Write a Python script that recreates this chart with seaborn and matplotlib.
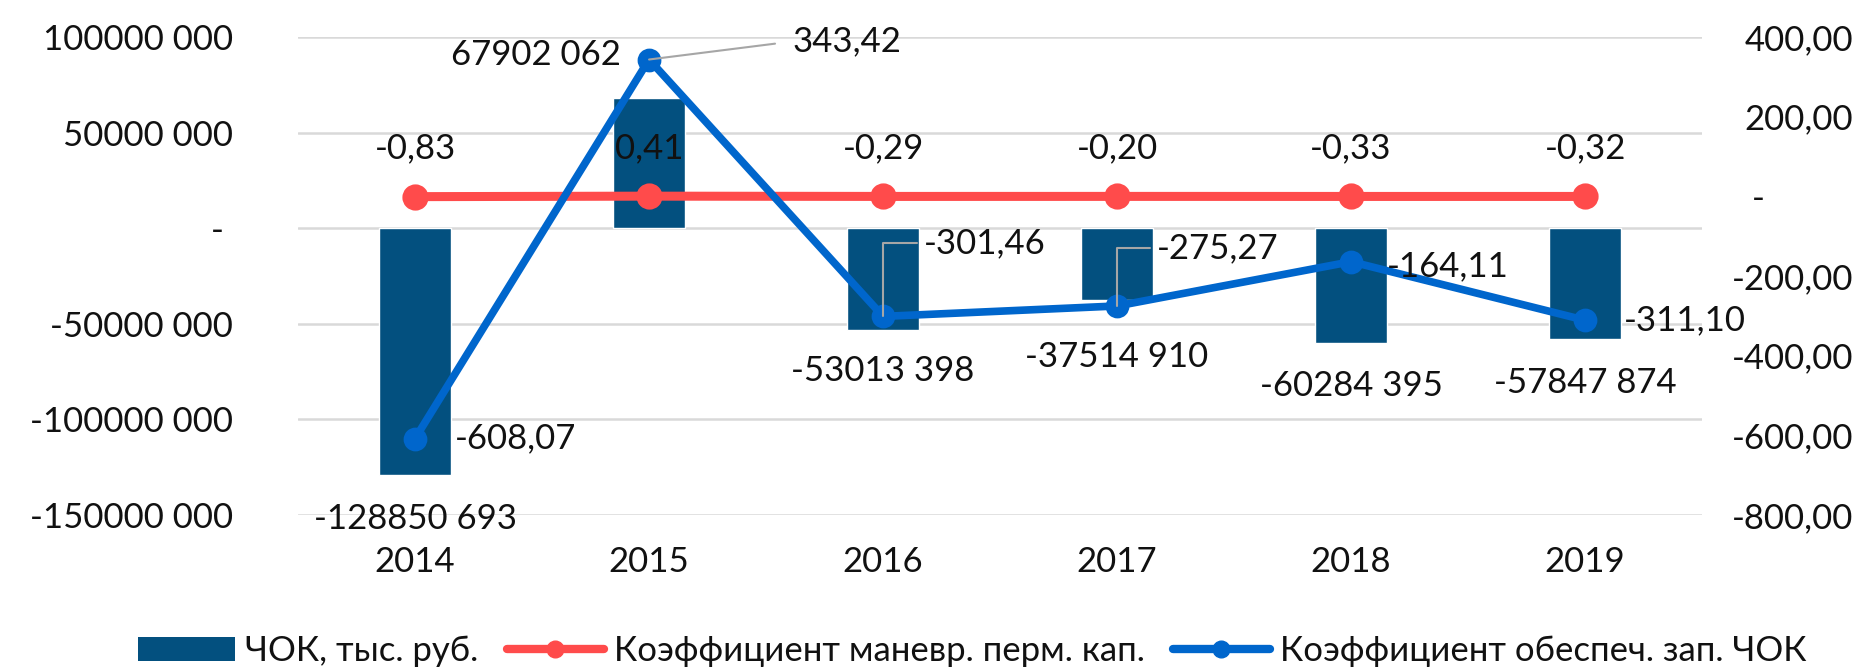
import numpy as np
import pandas as pd
import matplotlib
matplotlib.use('Agg')
import matplotlib.pyplot as plt
import seaborn as sns
from matplotlib.ticker import FuncFormatter, FixedLocator
from matplotlib.patches import Patch
from matplotlib.lines import Line2D

# ---- data ----
years = ['2014', '2015', '2016', '2017', '2018', '2019']
chok = [-128850693, 67902062, -53013398, -37514910, -60284395, -57847874]
k_manevr = [-0.83, 0.41, -0.29, -0.20, -0.33, -0.32]
k_obesp = [-608.07, 343.42, -301.46, -275.27, -164.11, -311.10]
series_names = ['ЧОК, тыс. руб.', 'Коэффициент маневр. перм. кап.', 'Коэффициент обеспеч. зап. ЧОК']
left_ticks = [-150e6, -100e6, -50e6, 0, 50e6, 100e6]
right_ticks = [-800, -600, -400, -200, 0, 200, 400]

sns.set_theme(style='white')
plt.rcParams['font.family'] = ['Lato', 'DejaVu Sans']
FS = 25
BAR = '#03507F'
RED = '#FF4B4B'
BLUE = '#0066CC'
GRID = '#D9D9D9'
TXT = '#111111'
LEAD = '#A6A6A6'


def fmt_big(v, zero='- '):
    v = int(round(v))
    if v == 0:
        return zero
    s = '-' if v < 0 else ''
    a = abs(v)
    return f"{s}{a // 1000} {a % 1000:03d}"


def fmt_dec(v):
    if abs(v) < 1e-9:
        return '-' + ' ' * 10
    return f"{v:.2f}".replace('.', ',')


df = pd.DataFrame({'year': years, 'chok': chok, 'km': k_manevr, 'ko': k_obesp})

fig = plt.figure(figsize=(18.7, 6.71), dpi=100)
ax = fig.add_axes([0.1594, 0.2325, 0.7508, 0.7124])
sns.barplot(data=df, x='year', y='chok', color=BAR, width=0.31, saturation=1,
            ax=ax, zorder=2)
ax.set_ylim(-150e6, 100e6)
ax.yaxis.set_major_locator(FixedLocator(left_ticks))
ax.yaxis.set_major_formatter(FuncFormatter(lambda v, p: fmt_big(v)))
ax.yaxis.grid(True, color=GRID, lw=1.8)
ax.set_axisbelow(True)
for s in ax.spines.values():
    s.set_visible(False)
ax.tick_params(axis='y', length=0, pad=47, labelsize=FS, labelcolor=TXT)
ax.tick_params(axis='x', length=0, pad=22, labelsize=FS, labelcolor=TXT)
ax.set_xlabel('')
ax.set_ylabel('')

ax2 = ax.twinx()
sns.pointplot(data=df, x='year', y='km', color=RED, errorbar=None, ax=ax2,
              markers='o', markersize=14, linewidth=6.5)
sns.pointplot(data=df, x='year', y='ko', color=BLUE, errorbar=None, ax=ax2,
              markers='o', markersize=13, linewidth=5.5)
ax2.set_ylim(-800, 400)
ax2.yaxis.set_major_locator(FixedLocator(right_ticks))
ax2.yaxis.set_major_formatter(FuncFormatter(lambda v, p: fmt_dec(v)))
for s in ax2.spines.values():
    s.set_visible(False)
ax2.grid(False)
ax2.tick_params(axis='y', length=0, pad=109, labelsize=FS, labelcolor=TXT)
for lbl in ax2.get_yticklabels():
    lbl.set_ha('right')
ax2.set_ylabel('')
ax2.set_xlabel('')
ax2.set_xlim(-0.5, len(years) - 0.5)
ax.set_xlim(-0.5, len(years) - 0.5)

# bar labels
bar_off = [(0, -44), (-113, 43), (0, -41), (0, -57), (0, -43), (0, -44)]
for i, v in enumerate(chok):
    ax.annotate(fmt_big(v), (i, v), xytext=bar_off[i], textcoords='offset pixels',
                ha='center', va='center', fontsize=FS, color=TXT, zorder=5)

# red labels
for i, v in enumerate(k_manevr):
    ax2.annotate(f"{v:.2f}".replace('.', ','), (i, v), xytext=(0, 48),
                 textcoords='offset pixels', ha='center', va='center',
                 fontsize=FS, color=TXT)

# blue labels
blue_off = [(40, 0), (143, 18), (41, 73), (40, 58), (36, -5), (39, 0)]
leaders = [None, 'straight', 'angle', 'angle', None, None]
for i, v in enumerate(k_obesp):
    kw = {}
    if leaders[i] == 'straight':
        kw['arrowprops'] = dict(arrowstyle='-', color=LEAD, lw=1.5, shrinkA=10,
                                shrinkB=0, relpos=(0, 0.5))
    elif leaders[i] == 'angle':
        kw['arrowprops'] = dict(arrowstyle='-', color=LEAD, lw=1.5, shrinkA=3,
                                shrinkB=0, relpos=(0, 0.5),
                                connectionstyle='angle,angleA=0,angleB=90,rad=0')
    ax2.annotate(f"{v:.2f}".replace('.', ','), (i, v), xytext=blue_off[i],
                 textcoords='offset pixels', ha='left', va='center',
                 fontsize=FS, color=TXT, **kw)

handles = [Patch(facecolor=BAR, edgecolor='none'),
           Line2D([], [], color=RED, lw=6, marker='o', markersize=12),
           Line2D([], [], color=BLUE, lw=6, marker='o', markersize=12)]
fig.legend(handles, series_names, loc='center', bbox_to_anchor=(0.52, 0.03),
           ncol=3, frameon=False, fontsize=FS, handlelength=2.8,
           handletextpad=0.3, columnspacing=0.8, handleheight=0.7,
           labelcolor=TXT)

fig.savefig('out.png', dpi=100)
